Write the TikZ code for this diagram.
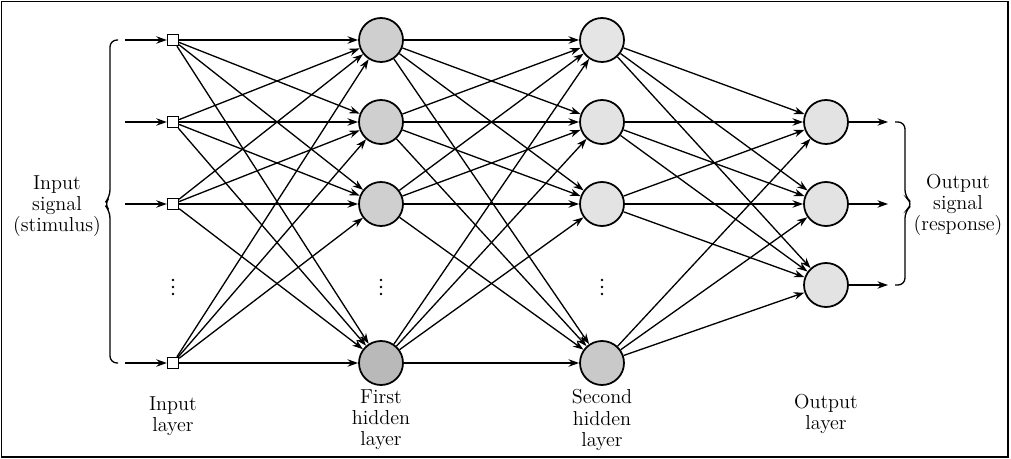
\documentclass[tikz,border=0pt]{standalone}
\usetikzlibrary{arrows.meta}
\begin{document}
\begin{tikzpicture}[x=0.02cm,y=-0.02cm,
 conn/.style={line width=0.75pt,-{Stealth[length=6pt,width=4.2pt]}},
 inbox/.style={draw,line width=0.75pt,fill=white,minimum size=0.22cm,inner sep=0pt},
 neuron/.style={circle,draw,line width=1pt,minimum size=0.88cm,inner sep=0pt},
 lbl/.style={align=center,font=\fontsize{11.5}{12}\selectfont},
 brace/.style={line width=0.75pt,rounded corners=4pt},
 dot/.style={circle,fill,inner sep=0pt,minimum size=1.6pt}]
\useasboundingbox (0,0) rectangle (1011,459);
\draw[line width=1pt] (1.5,1.5) rectangle (1008,457);

% input layer
\foreach \n/\y in {1/40,2/122,3/204,4/363}{
  \node[inbox] (i\n) at (173,\y) {};
  \coordinate (s\n) at (125,\y);
}
% first hidden layer
\foreach \n/\y/\c in {1/40/38,2/122/38,3/204/38,4/363/55}{
  \node[neuron,fill=gray!\c] (a\n) at (381,\y) {};
}
% second hidden layer
\foreach \n/\y/\c in {1/40/20,2/122/22,3/204/22,4/363/42}{
  \node[neuron,fill=gray!\c] (b\n) at (602,\y) {};
}
% output layer
\foreach \n/\y in {1/122,2/204,3/285}{
  \node[neuron,fill=gray!22] (o\n) at (826,\y) {};
  \coordinate (e\n) at (888,\y);
}

% connections
\foreach \n in {1,2,3,4}{ \draw[conn] (s\n) -- (i\n); }
\foreach \p in {1,2,3,4}{
  \foreach \q in {1,2,3,4}{
    \draw[conn] (i\p) -- (a\q);
    \draw[conn] (a\p) -- (b\q);
  }
  \foreach \q in {1,2,3}{ \draw[conn] (b\p) -- (o\q); }
}
\foreach \n in {1,2,3}{ \draw[conn] (o\n) -- (e\n); }

% vertical dots
\foreach \x in {173,381,602}{
  \foreach \y in {280,287,294}{ \node[dot] at (\x,\y) {}; }
}

% braces
\draw[brace] (118,40) -- (110,40) -- (110,197) -- (104,204) -- (110,211) -- (110,363) -- (118,363);
\draw[brace] (895,122) -- (905,122) -- (905,197) -- (913,204) -- (905,211) -- (905,285) -- (895,285);

% labels
\node[lbl] (tin) at (57,206) {Input\\signal\\(stimulus)};
\node[lbl] (tout) at (958,205) {Output\\signal\\(response)};
\node[lbl] (l1) at (173,416) {Input\\layer};
\node[lbl] (l2) at (381,420) {First\\hidden\\layer};
\node[lbl] (l3) at (602,420) {Second\\hidden\\layer};
\node[lbl] (l4) at (826,414) {Output\\layer};
\end{tikzpicture}
\end{document}
